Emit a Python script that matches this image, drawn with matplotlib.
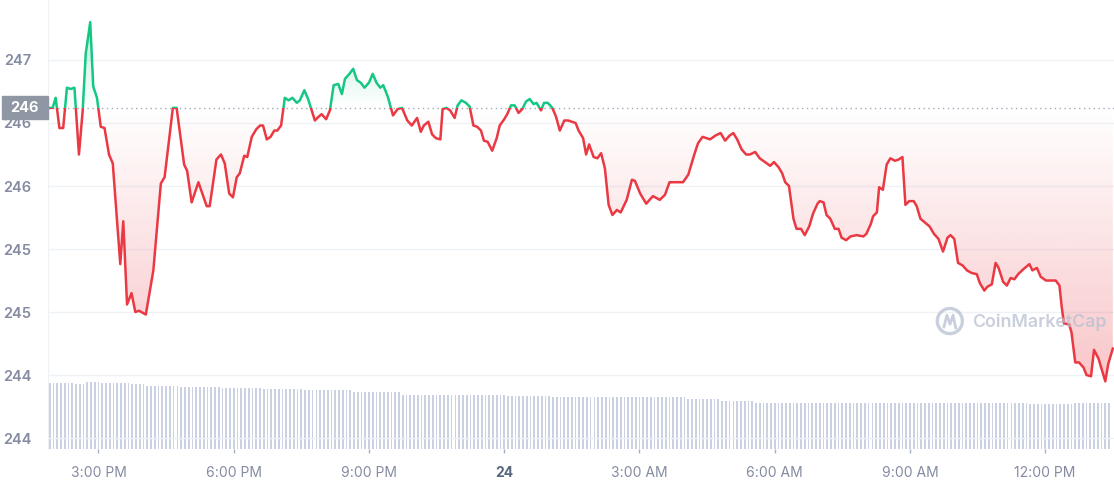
import numpy as np
import matplotlib
matplotlib.use("Agg")
import matplotlib.pyplot as plt
import matplotlib.transforms as mtransforms
from matplotlib.patches import Rectangle, Ellipse

plt.rcParams['font.family'] = ['Inter', 'DejaVu Sans']

# price line: minutes relative to 3:00 PM, price in USD
minutes = [-67, -61, -57, -52, -47, -42, -37, -32, -26, -21, -17, -11, -7, -2, 3, 8, 14, 19, 29, 33,
           38, 44, 49, 54, 63, 73, 83, 88, 99, 104, 114, 118, 124, 133, 144, 148, 157, 163,
           168, 174, 179, 184, 188, 194, 198, 204, 210, 215, 219, 224, 229, 234, 238, 243, 248, 253,
           258, 264, 268, 274, 279, 288, 293, 297, 303, 308, 313, 319, 324, 328, 334, 339, 344, 349,
           354, 360, 365, 370, 375, 379, 385, 392, 398, 404,
           411, 417, 424, 429, 433, 439, 444, 449, 455, 458, 463, 468, 474, 478, 483, 489, 494, 499,
           504, 509, 513, 518, 524, 530, 534, 540, 544, 549, 554, 559, 564, 569, 574, 579, 583, 589,
           593, 598, 604, 609, 614, 620, 625, 630, 635, 639,
           645, 649, 653, 659, 664, 669, 674, 679, 684, 690, 695, 703, 710, 714, 721, 729, 738, 747,
           754, 760, 767, 774, 778, 785, 793, 798, 804, 814, 821, 828, 834, 840, 845, 850, 856, 862,
           867, 874, 880,
           887, 894, 899, 905, 910, 914, 919, 925, 929, 935, 940, 946, 951, 957, 960, 965, 969, 974,
           980, 985, 989, 995, 1001, 1009, 1018, 1022, 1028, 1031, 1036, 1039, 1044, 1049, 1054, 1060,
           1065, 1070, 1074, 1079, 1085, 1089, 1094, 1100, 1106,
           1112, 1118, 1124, 1130, 1134, 1139, 1144, 1150, 1156, 1162, 1169, 1173, 1179, 1183, 1189,
           1194, 1198, 1204, 1209, 1214, 1219, 1224, 1231, 1239, 1243, 1249, 1254, 1261, 1267, 1274,
           1279, 1282, 1285, 1292, 1295, 1300, 1305, 1311, 1315, 1321, 1325, 1331, 1335, 1340, 1344, 1350]

price = [246.42, 246.42, 246.50, 246.26, 246.26, 246.58, 246.57, 246.58, 246.05, 246.40, 246.85, 247.10,
         246.59, 246.50, 246.27, 246.26, 246.05, 245.98, 245.18, 245.52, 244.86, 244.95, 244.80, 244.81,
         244.78, 245.13, 245.82, 245.87, 246.42, 246.42, 245.97, 245.92, 245.67, 245.83, 245.64, 245.64,
         246.01, 246.05,
         245.98, 245.74, 245.71, 245.87, 245.90, 246.04, 246.03, 246.19, 246.25, 246.28, 246.28, 246.17,
         246.19, 246.24, 246.24, 246.28, 246.50, 246.48, 246.50, 246.46, 246.48, 246.56, 246.49, 246.32,
         246.35, 246.37, 246.33, 246.40, 246.60, 246.61, 246.53, 246.65, 246.69, 246.73, 246.64, 246.62,
         246.58, 246.62, 246.69, 246.62, 246.58, 246.60, 246.51, 246.36, 246.41, 246.42,
         246.32, 246.28, 246.34, 246.23, 246.28, 246.31, 246.21, 246.18, 246.17, 246.41, 246.42, 246.40,
         246.34, 246.44, 246.48, 246.46, 246.43, 246.28, 246.27, 246.24, 246.16, 246.15, 246.08, 246.18,
         246.28, 246.33, 246.37, 246.44, 246.44, 246.38, 246.41, 246.47, 246.49, 246.45, 246.46, 246.40,
         246.46, 246.46, 246.42, 246.35, 246.24, 246.32, 246.32, 246.31, 246.30, 246.24,
         246.18, 246.05, 246.13, 246.03, 246.02, 246.06, 245.94, 245.65, 245.57, 245.61, 245.59, 245.69,
         245.85, 245.84, 245.74, 245.66, 245.72, 245.69, 245.73, 245.83, 245.83, 245.83, 245.83, 245.89,
         246.05, 246.14, 246.19, 246.17, 246.20, 246.22, 246.16, 246.20, 246.22, 246.17, 246.09, 246.05,
         246.05, 246.07, 246.02,
         245.99, 245.96, 245.99, 245.95, 245.90, 245.83, 245.80, 245.54, 245.46, 245.46, 245.41, 245.48,
         245.58, 245.66, 245.68, 245.67, 245.57, 245.54, 245.46, 245.46, 245.39, 245.37, 245.40, 245.41,
         245.40, 245.42, 245.50, 245.56, 245.59, 245.79, 245.77, 245.97, 246.02, 246.00, 246.01, 246.03,
         245.65, 245.68, 245.68, 245.64, 245.54, 245.51, 245.48,
         245.42, 245.38, 245.28, 245.39, 245.41, 245.38, 245.19, 245.17, 245.13, 245.11, 245.10, 245.03,
         244.97, 245.00, 245.02, 245.19, 245.15, 245.04, 245.01, 245.07, 245.06, 245.10, 245.14, 245.18,
         245.13, 245.15, 245.08, 245.05, 245.05, 245.05, 245.01, 244.84, 244.71, 244.70, 244.64, 244.40,
         244.40, 244.36, 244.30, 244.29, 244.50, 244.43, 244.35, 244.25, 244.39, 244.51]

base_price = 246.42  # price at the start of the window (dotted reference line)

# volume bars (5 minute candles), read as plateaus: level and number of bars at that level
vol_levels = [14.8, 14.5, 15.0, 14.7, 14.4, 14.1, 13.9, 13.6, 13.4, 13.1, 12.7, 12.1, 11.8, 11.6,
              11.1, 10.7, 10.3, 10.0, 10.2]
vol_counts = [7, 3, 4, 8, 4, 9, 11, 11, 11, 13, 13, 28, 12, 36, 9, 9, 73, 12, 10]
vol_first = -65
vol_step = 5

x_ticks = [0, 180, 360, 540, 720, 900, 1080, 1260]
x_labels = ["3:00 PM", "6:00 PM", "9:00 PM", "24", "3:00 AM", "6:00 AM", "9:00 AM", "12:00 PM"]
y_ticks = [246.8, 246.3, 245.8, 245.3, 244.8, 244.3, 243.8]
y_labels = ["247", "246", "246", "245", "245", "244", "244"]

red = '#ea3943'
green = '#16c784'

t = np.array(minutes, dtype=float)
p = np.array(price)

fig = plt.figure(figsize=(11.14, 4.8), dpi=100)
rect = [48 / 1114, 31 / 480, 1066 / 1114, 449 / 480]
ax = fig.add_axes(rect)
axv = ax.twinx()
ax.set_zorder(2)
axv.set_zorder(1)
ax.patch.set_visible(False)

xmin, xmax = -67.2, 1351.6
ymin, ymax = 243.713, 247.276
ax.set_xlim(xmin, xmax)
ax.set_ylim(ymin, ymax)

# volume
vol = np.repeat(vol_levels, vol_counts)
vol_t = vol_first + vol_step * np.arange(len(vol))
axv.bar(vol_t, vol, width=2.3, color='#c9d1e3', lw=0)
axv.set_ylim(0, 100)
axv.set_xlim(xmin, xmax)
axv.axis('off')

# gradient fills between price and reference line
below = ax.fill_between(t, p, base_price, where=p <= base_price, interpolate=True, color='none', lw=0)
above = ax.fill_between(t, p, base_price, where=p >= base_price, interpolate=True, color='none', lw=0)

n = 256
red_img = np.zeros((n, 1, 4))
red_img[..., :3] = matplotlib.colors.to_rgb(red)
red_img[:, 0, 3] = np.linspace(0.36, 0.0, n)
green_img = np.zeros((n, 1, 4))
green_img[..., :3] = matplotlib.colors.to_rgb(green)
green_img[:, 0, 3] = np.linspace(0.0, 0.3, n)

for path in below.get_paths():
    im = ax.imshow(red_img, extent=[xmin, xmax, ymin, base_price], origin='lower',
                   aspect='auto', interpolation='bilinear', zorder=1)
    im.set_clip_path(path, ax.transData)
for path in above.get_paths():
    im = ax.imshow(green_img, extent=[xmin, xmax, base_price, p.max()], origin='lower',
                   aspect='auto', interpolation='bilinear', zorder=1)
    im.set_clip_path(path, ax.transData)
ax.set_xlim(xmin, xmax)
ax.set_ylim(ymin, ymax)

# price line: green above reference, red below
lg, = ax.plot(t, p, color=green, lw=1.8, zorder=4, solid_joinstyle='round')
lg.set_clip_path(Rectangle((xmin, base_price), xmax - xmin, ymax - base_price, transform=ax.transData))
lr, = ax.plot(t, p, color=red, lw=1.8, zorder=4, solid_joinstyle='round')
lr.set_clip_path(Rectangle((xmin, ymin), xmax - xmin, base_price - ymin, transform=ax.transData))

ax.axhline(base_price, color='#a3a9b8', lw=1, ls=(0, (1, 2.5)), zorder=3)

# axes styling
ax.set_yticks(y_ticks)
ax.set_yticklabels(y_labels)
ax.set_xticks(x_ticks)
ax.set_xticklabels(x_labels)
ax.grid(axis='y', color='#eff2f5', lw=1)
ax.set_axisbelow(True)
for s in ['top', 'right', 'bottom']:
    ax.spines[s].set_visible(False)
ax.spines['left'].set_color('#eff2f5')
ax.tick_params(axis='y', length=0, pad=12, labelcolor='#858ca2', labelsize=10.5)
ax.tick_params(axis='x', length=3, width=1, color='#a6b0c3', pad=9, labelcolor='#858ca2', labelsize=10)
for lab in ax.get_yticklabels():
    lab.set_fontweight('semibold')
xl = ax.get_xticklabels()
xl[3].set_fontweight('bold')
xl[3].set_color('#58667e')

# reference price tag
trans = mtransforms.blended_transform_factory(ax.transAxes, ax.transData)
tag_h = 0.091
ax.add_patch(Rectangle((-0.0432, base_price - tag_h), 0.0432, 2 * tag_h, transform=trans,
                       clip_on=False, color='#8f96a4', zorder=6))
ax.text(-0.0216, base_price, "246", transform=trans, ha='center', va='center', color='white',
        fontsize=10.5, fontweight='bold', zorder=7)

# watermark
wm = '#b7c0d1'
ax.add_patch(Ellipse((0.846, 0.285), 0.0235, 0.056, transform=ax.transAxes, fill=False,
                     ec=wm, lw=2.4, alpha=0.75, zorder=5))
ax.plot([0.8405, 0.8432, 0.8462, 0.849, 0.8515], [0.272, 0.298, 0.278, 0.298, 0.27],
        transform=ax.transAxes, color=wm, lw=2, alpha=0.75, zorder=5)
ax.text(0.8665, 0.283, "CoinMarketCap", transform=ax.transAxes, ha='left', va='center',
        fontsize=12.8, color=wm, alpha=0.75, fontweight='semibold', zorder=5)

fig.savefig('out.png', dpi=100)
